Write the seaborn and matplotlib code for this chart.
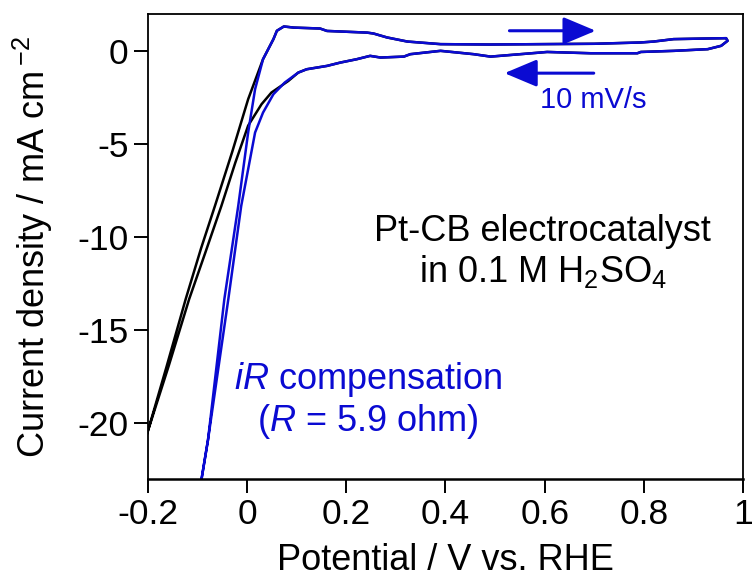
import numpy as np
import pandas as pd
import seaborn as sns
import matplotlib.pyplot as plt
from matplotlib.ticker import FormatStrFormatter

# shared double-layer part of the CV (upper = positive-going, lower = return)
dl_top_v = [0.074, 0.094, 0.147, 0.161, 0.242, 0.255, 0.282, 0.323, 0.39, 0.49, 0.592, 0.70, 0.794, 0.82, 0.86, 0.92, 0.966]
dl_top_j = [1.33, 1.27, 1.22, 1.09, 1.0, 0.95, 0.74, 0.52, 0.38, 0.36, 0.38, 0.40, 0.47, 0.52, 0.65, 0.68, 0.70]
dl_bot_v = [0.969, 0.956, 0.929, 0.861, 0.794, 0.787, 0.693, 0.605, 0.592, 0.491, 0.457, 0.39, 0.329, 0.316,
            0.269, 0.248, 0.221, 0.188, 0.161, 0.12, 0.103]
dl_bot_j = [0.56, 0.29, 0.11, 0.02, -0.04, -0.11, -0.11, -0.04, -0.07, -0.29, -0.16, 0.02, -0.16, -0.29,
            -0.34, -0.25, -0.43, -0.61, -0.79, -0.97, -1.15]

# hydrogen evolution region, raw data (black)
raw_up_v = [-0.23, -0.2, -0.163, -0.124, -0.093, -0.065, -0.03, 0.002, 0.032, 0.053, 0.06]
raw_up_j = [-23.3, -20.4, -17.0, -13.33, -10.6, -8.32, -5.4, -2.58, -0.43, 0.65, 1.1]
raw_down_v = [0.083, 0.049, 0.029, 0.002, -0.024, -0.052, -0.084, -0.117, -0.158, -0.2, -0.23]
raw_down_j = [-1.6, -2.22, -2.85, -4.0, -6.0, -8.32, -10.8, -13.33, -16.9, -20.4, -23.1]

# hydrogen evolution region, iR compensated (blue)
comp_up_v = [-0.098, -0.092, -0.079, -0.046, -0.018, 0.002, 0.016, 0.032, 0.053, 0.06]
comp_up_j = [-25.0, -23.0, -20.9, -13.33, -8.32, -4.37, -2.04, -0.43, 0.65, 1.1]
comp_down_v = [0.076, 0.053, 0.032, 0.016, -0.012, -0.038, -0.079, -0.092, -0.098]
comp_down_j = [-1.68, -2.31, -3.3, -4.37, -8.32, -13.33, -20.9, -23.0, -25.0]

x_ticks = [-0.2, 0, 0.2, 0.4, 0.6, 0.8, 1.0]
y_ticks = [0, -5, -10, -15, -20]

blue = '#0a0ad2'

def loop(up_v, up_j, down_v, down_j):
    v = up_v + dl_top_v + dl_bot_v + down_v
    j = up_j + dl_top_j + dl_bot_j + down_j
    return pd.DataFrame({'v': v, 'j': j})

raw = loop(raw_up_v, raw_up_j, raw_down_v, raw_down_j)
comp = loop(comp_up_v, comp_up_j, comp_down_v, comp_down_j)

sns.set_style('ticks')
plt.rcParams['font.family'] = ['Liberation Sans', 'DejaVu Sans']
plt.rcParams['mathtext.fontset'] = 'custom'
plt.rcParams['mathtext.rm'] = 'Liberation Sans'
plt.rcParams['mathtext.it'] = 'Liberation Sans:italic'
plt.rcParams['axes.unicode_minus'] = False
plt.rcParams['text.color'] = 'black'
plt.rcParams['axes.labelcolor'] = 'black'

fig = plt.figure(figsize=(7.52, 5.79), dpi=100)
ax = fig.add_axes([0.1968, 0.1727, 0.7912, 0.8031])

sns.lineplot(data=raw, x='v', y='j', sort=False, estimator=None, color='black', lw=1.8, ax=ax)
sns.lineplot(data=comp, x='v', y='j', sort=False, estimator=None, color=blue, lw=1.8, ax=ax)

ax.set_xlim(-0.2, 1.0)
ax.set_ylim(-23, 2)
ax.set_xticks(x_ticks)
ax.set_yticks(y_ticks)
ax.xaxis.set_major_formatter(FormatStrFormatter('%g'))
ax.tick_params(direction='out', length=10, width=1.4, labelsize=25.5, pad=4, colors='black')
for s in ax.spines.values():
    s.set_linewidth(1.3)
    s.set_color('black')
ax.spines['bottom'].set_linewidth(1.8)

ax.set_xlabel('Potential / V vs. RHE', fontsize=26, labelpad=8)
ax.set_ylabel('Current density / mA cm$\\,^{-2}$', fontsize=26, labelpad=16)

ax.text(0.596, -10.8, 'Pt-CB electrocatalyst\nin 0.1 M H$_2$SO$_4$', fontsize=26,
        ha='center', va='center', linespacing=1.15)
ax.text(0.244, -18.8, '$\\mathit{iR}$ compensation\n($\\mathit{R}$ = 5.9 ohm)', fontsize=26,
        ha='center', va='center', color=blue, linespacing=1.1)
ax.text(0.699, -2.6, '10 mV/s', fontsize=21, ha='center', va='center', color=blue)

arrow = dict(arrowstyle='-|>,head_length=1.0,head_width=0.42', color=blue, lw=2.2, mutation_scale=20,
             shrinkA=0, shrinkB=0)
ax.annotate('', xy=(0.703, 1.10), xytext=(0.529, 1.10), arrowprops=arrow)
ax.annotate('', xy=(0.519, -1.18), xytext=(0.699, -1.18), arrowprops=arrow)

fig.savefig('out.png', dpi=100)
